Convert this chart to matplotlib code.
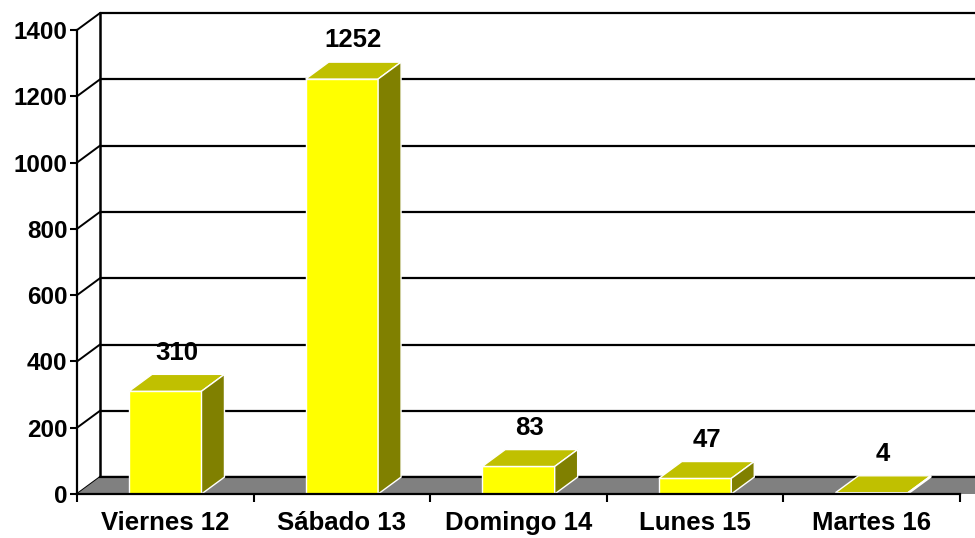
import matplotlib
matplotlib.use("Agg")
import matplotlib.pyplot as plt
from matplotlib.patches import Polygon
import numpy as np

# data
days = ["Viernes 12", "Sábado 13", "Domingo 14", "Lunes 15", "Martes 16"]
counts = [310, 1252, 83, 47, 4]
yticks = [0, 200, 400, 600, 800, 1000, 1200, 1400]

plt.rcParams['font.family'] = ['Liberation Sans', 'DejaVu Sans']
plt.rcParams['font.weight'] = 'bold'

# pseudo 3d depth, in data units
DX = 0.13
DY = 51
BAR_W = 0.41
FRONT = '#ffff00'
TOP = '#c0c000'
SIDE = '#808000'

fig = plt.figure(figsize=(9.75, 5.38), dpi=100)
ax = fig.add_axes([77/975, 44/538, 883/975, 464/538])
ax.set_xlim(0, len(days))
ax.set_ylim(0, 1400)
ax.patch.set_alpha(0)

n = len(days)
# back wall grid + left wall diagonals
for v in yticks:
    ax.plot([DX, n + DX + 1], [v + DY, v + DY], color='black', lw=1.6,
            clip_on=False, zorder=1, solid_capstyle='butt')
    ax.plot([0, DX], [v, v + DY], color='black', lw=1.4, clip_on=False, zorder=1)
ax.plot([DX, DX], [DY, 1400 + DY], color='black', lw=1.8, clip_on=False, zorder=1)

# floor
floor = Polygon([(0, 0), (n + 1, 0), (n + 1 + DX, DY), (DX, DY)],
                closed=True, facecolor='#808080', edgecolor='none',
                clip_on=False, zorder=1.5)
ax.add_patch(floor)
ax.plot([DX, n + DX + 1], [DY, DY], color='black', lw=1.6, clip_on=False, zorder=1.6)

# bars
for i, v in enumerate(counts):
    x0 = i + 0.5 - BAR_W / 2
    x1 = i + 0.5 + BAR_W / 2
    faces = [
        ([(x0, 0), (x1, 0), (x1, v), (x0, v)], FRONT),
        ([(x0, v), (x1, v), (x1 + DX, v + DY), (x0 + DX, v + DY)], TOP),
        ([(x1, 0), (x1 + DX, DY), (x1 + DX, v + DY), (x1, v)], SIDE),
    ]
    for pts, col in faces:
        ax.add_patch(Polygon(pts, closed=True, facecolor=col, edgecolor='white',
                             lw=1.0, joinstyle='miter', clip_on=False, zorder=3))
    ax.annotate(str(v), xy=(i + 0.5 + DX / 2, v + DY), xytext=(0, 7),
                textcoords='offset points', ha='center', va='bottom',
                fontsize=18.5, fontweight='bold', zorder=5,
                annotation_clip=False)

for s in ['top', 'right']:
    ax.spines[s].set_visible(False)
for s in ['left', 'bottom']:
    ax.spines[s].set_linewidth(1.6)
    ax.spines[s].set_zorder(4)

ax.set_yticks(yticks)
ax.set_yticklabels([str(t) for t in yticks])
ax.tick_params(axis='y', length=5, width=1.5, pad=2, labelsize=17.5)

ax.set_xticks(np.arange(n + 1))
ax.set_xticklabels([])
ax.set_xticks(np.arange(n) + 0.5, minor=True)
ax.set_xticklabels(days, minor=True)
ax.tick_params(axis='x', which='major', length=6, width=1.5)
ax.tick_params(axis='x', which='minor', length=0, pad=12, labelsize=18.5)
for lab in ax.get_xticklabels(minor=True) + ax.get_yticklabels():
    lab.set_fontweight('bold')

fig.savefig('out.png', dpi=100)
